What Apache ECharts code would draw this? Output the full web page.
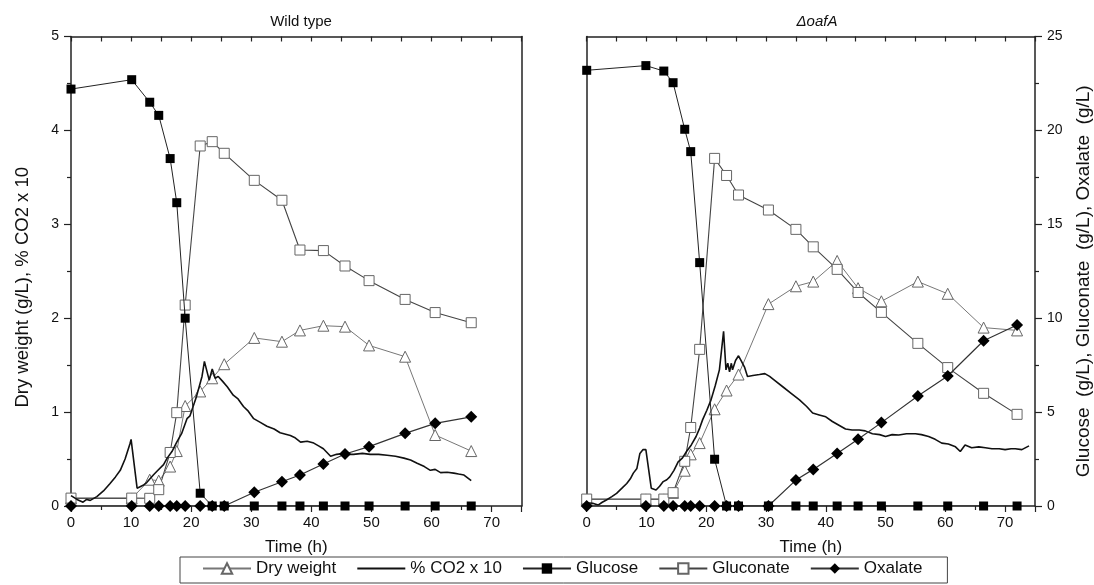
<!DOCTYPE html>
<html>
<head>
<meta charset="utf-8">
<script src="https://cdn.jsdelivr.net/npm/echarts@6/dist/echarts.min.js"></script>
<style>
  html, body { margin: 0; padding: 0; background: #fff; }
  #chart { width: 1094px; height: 585px; }
</style>
</head>
<body>
<div id="chart"></div>
<script>
// ---- Wild type: sampling times (h) and values
const wtTime = [0, 10.1, 13.1, 14.6, 16.5, 17.6, 19.0, 21.5, 23.5, 25.5, 30.5, 35.1, 38.1, 42.0, 45.6, 49.6, 55.6, 60.6, 66.6]
const wtDryWeight = [0.08, 0.08, 0.28, 0.27, 0.42, 0.585, 1.065, 1.22, 1.36, 1.51, 1.79, 1.75, 1.87, 1.92, 1.91, 1.71, 1.59, 0.756, 0.585]
const wtGlucose = [22.2, 22.7, 21.5, 20.8, 18.5, 16.15, 10.0, 0.68, 0, 0, 0, 0, 0, 0, 0, 0, 0, 0, 0]
const wtGluconate = [0.42, 0.42, 0.41, 0.87, 2.85, 4.97, 10.7, 19.17, 19.4, 18.78, 17.34, 16.28, 13.63, 13.6, 12.78, 12.0, 11.0, 10.3, 9.76]
const wtOxalate = [0, 0, 0, 0, 0, 0, 0, 0, 0, 0, 0.73, 1.29, 1.65, 2.24, 2.77, 3.16, 3.87, 4.4, 4.75]
// CO2 trace (wild type)
const wtCo2Time = [0, 1.0, 2.0, 2.6, 3.2, 4.3, 5.4, 6.5, 7.4, 8.2, 9.0, 9.8, 10.0, 11.0, 12.0, 12.6, 13.7, 14.3, 15.4, 16.0, 16.8, 17.6, 18.4, 19.3, 19.8, 20.9, 21.8, 22.2, 22.5, 23.0, 23.5, 24.0, 24.5, 25.2, 26.0, 27.0, 27.8, 28.7, 29.5, 30.4, 31.5, 32.6, 33.8, 34.8, 36.5, 37.2, 38.2, 39.3, 40.4, 41.2, 42.0, 43.2, 44.2, 45.2, 46.2, 47.0, 48.5, 49.8, 51.2, 52.6, 54.0, 55.4, 56.5, 57.6, 58.8, 59.8, 60.6, 61.5, 62.6, 63.7, 64.5, 65.4, 66.6]
const wtCo2 = [0.11, 0.07, 0.04, 0.07, 0.06, 0.10, 0.16, 0.24, 0.31, 0.38, 0.50, 0.66, 0.71, 0.19, 0.22, 0.25, 0.33, 0.37, 0.44, 0.51, 0.58, 0.68, 0.77, 0.93, 0.96, 1.17, 1.38, 1.54, 1.55, 1.34, 1.46, 1.36, 1.38, 1.33, 1.27, 1.18, 1.14, 1.06, 1.01, 0.93, 0.89, 0.85, 0.82, 0.78, 0.75, 0.73, 0.68, 0.69, 0.67, 0.64, 0.61, 0.53, 0.55, 0.56, 0.55, 0.55, 0.56, 0.55, 0.55, 0.54, 0.53, 0.51, 0.49, 0.455, 0.42, 0.38, 0.39, 0.355, 0.36, 0.35, 0.34, 0.33, 0.27]

// ---- deltaOafA: sampling times (h) and values
const koTime = [0, 9.9, 12.9, 14.45, 16.4, 17.4, 18.9, 21.4, 23.4, 25.4, 30.4, 35.0, 37.9, 41.9, 45.4, 49.3, 55.4, 60.4, 66.4, 72.0]
const koDryWeight = [0.07, 0.07, 0.07, 0.14, 0.376, 0.55, 0.67, 1.03, 1.23, 1.40, 2.15, 2.34, 2.39, 2.61, 2.32, 2.18, 2.39, 2.26, 1.90, 1.87]
const koGlucose = [23.2, 23.45, 23.16, 22.54, 20.06, 18.87, 12.96, 2.49, 0, 0, 0, 0, 0, 0, 0, 0, 0, 0, 0, 0]
const koGluconate = [0.37, 0.37, 0.37, 0.71, 2.38, 4.18, 8.34, 18.51, 17.6, 16.56, 15.76, 14.73, 13.8, 12.6, 11.37, 10.31, 8.66, 7.37, 6.0, 4.88]
const koOxalate = [0, 0, 0, 0, 0, 0, 0, 0, 0, 0, 0, 1.38, 1.95, 2.80, 3.55, 4.44, 5.86, 6.92, 8.80, 9.64]
// CO2 trace (deltaOafA)
const koCo2Time = [0, 1.0, 1.9, 2.6, 3.3, 4.2, 5.0, 5.9, 6.7, 7.3, 7.8, 8.4, 8.9, 9.4, 9.9, 10.8, 11.6, 12.2, 12.8, 13.4, 13.9, 14.6, 15.3, 16.0, 16.7, 17.5, 18.3, 18.9, 19.4, 20.1, 20.8, 21.5, 22.2, 22.9, 23.3, 23.6, 23.9, 24.2, 24.4, 24.9, 25.4, 25.9, 26.4, 26.9, 27.8, 28.9, 29.8, 30.6, 31.6, 32.8, 34.2, 35.6, 36.8, 37.8, 38.9, 40.0, 41.1, 42.2, 43.3, 44.4, 45.6, 46.6, 47.8, 49.0, 50.0, 51.1, 52.2, 53.5, 55.0, 56.0, 57.2, 58.3, 59.4, 60.5, 61.7, 62.5, 63.3, 64.4, 65.6, 66.7, 67.8, 69.0, 70.0, 71.0, 71.7, 72.8, 74.0]
const koCo2 = [0.035, 0.03, 0.01, 0.04, 0.064, 0.10, 0.135, 0.19, 0.24, 0.29, 0.35, 0.40, 0.56, 0.60, 0.60, 0.19, 0.17, 0.21, 0.26, 0.28, 0.31, 0.38, 0.47, 0.51, 0.58, 0.65, 0.74, 0.83, 0.92, 1.02, 1.13, 1.28, 1.45, 1.86, 1.45, 1.52, 1.43, 1.52, 1.45, 1.55, 1.60, 1.54, 1.48, 1.38, 1.39, 1.40, 1.41, 1.38, 1.33, 1.27, 1.20, 1.13, 1.06, 0.99, 0.97, 0.95, 0.90, 0.86, 0.82, 0.81, 0.81, 0.80, 0.77, 0.76, 0.74, 0.76, 0.756, 0.77, 0.77, 0.76, 0.74, 0.71, 0.67, 0.66, 0.63, 0.58, 0.65, 0.62, 0.63, 0.62, 0.61, 0.61, 0.60, 0.61, 0.61, 0.60, 0.64]

const legendNames = ['Dry weight', '% CO2 x 10', 'Glucose', 'Gluconate', 'Oxalate']
const panelTitles = ['Wild type', '\u0394oafA']

const FONT = 'Liberation Sans, Arial, sans-serif'
const AXIS_COLOR = '#222'

function pairs(t, v) {
  return t.map((x, i) => [x, v[i]])
}

function xBottom(gridIndex) {
  return {
    type: 'value',
    gridIndex: gridIndex,
    position: 'bottom',
    min: 0,
    max: 75,
    interval: 10,
    name: 'Time (h)',
    nameLocation: 'middle',
    nameGap: 33,
    nameTextStyle: { fontFamily: FONT, fontSize: 17, color: '#111' },
    axisLine: { show: true, onZero: false, lineStyle: { color: AXIS_COLOR, width: 1.5 } },
    axisTick: { show: true, length: 6, lineStyle: { color: AXIS_COLOR, width: 1.2 } },
    minorTick: { show: true, splitNumber: 2, length: 4, lineStyle: { color: AXIS_COLOR, width: 1.2 } },
    axisLabel: { fontFamily: FONT, fontSize: 15, color: '#111', margin: 9, showMaxLabel: false },
    splitLine: { show: false },
  }
}

function xTop(gridIndex) {
  return {
    type: 'value',
    gridIndex: gridIndex,
    position: 'top',
    min: 0,
    max: 75,
    interval: 5,
    axisLine: { show: true, onZero: false, lineStyle: { color: AXIS_COLOR, width: 1.5 } },
    axisTick: { show: true, inside: true, length: 5, lineStyle: { color: AXIS_COLOR, width: 1.2 } },
    axisLabel: { show: false },
    splitLine: { show: false },
  }
}

// plain frame line without ticks
function yFrame(gridIndex, position, max) {
  return {
    type: 'value',
    gridIndex: gridIndex,
    position: position,
    min: 0,
    max: max,
    axisLine: { show: true, onZero: false, lineStyle: { color: AXIS_COLOR, width: 1.5 } },
    axisTick: { show: false },
    axisLabel: { show: false },
    splitLine: { show: false },
  }
}

function yScaled(gridIndex, position, max, interval, name, gap, size, shift) {
  return {
    type: 'value',
    gridIndex: gridIndex,
    position: position,
    min: 0,
    max: max,
    interval: interval,
    name: name,
    nameLocation: 'middle',
    nameRotate: 90,
    nameGap: gap,
    // right padding moves the rotated name downwards
    nameTextStyle: { fontFamily: FONT, fontSize: size, color: '#111', padding: [0, shift, 0, 0] },
    axisLine: { show: true, onZero: false, lineStyle: { color: AXIS_COLOR, width: 1.5 } },
    axisTick: { show: true, length: 7, lineStyle: { color: AXIS_COLOR, width: 1.2 } },
    minorTick: { show: true, splitNumber: 2, length: 4, lineStyle: { color: AXIS_COLOR, width: 1.2 } },
    axisLabel: { fontFamily: FONT, fontSize: 14, color: '#111', margin: 12 },
    splitLine: { show: false },
  }
}

function panelSeries(xIdx, yLeft, yRight, t, dry, glu, gln, oxa, co2t, co2) {
  return [
    {
      name: 'Dry weight', type: 'line', xAxisIndex: xIdx, yAxisIndex: yLeft,
      data: pairs(t, dry), symbol: 'triangle', symbolSize: 11, z: 3,
      lineStyle: { color: '#777', width: 1 },
      itemStyle: { color: '#fff', borderColor: '#666', borderWidth: 1 },
    },
    {
      name: '% CO2 x 10', type: 'line', xAxisIndex: xIdx, yAxisIndex: yLeft,
      data: pairs(co2t, co2), symbol: 'none', z: 4,
      lineStyle: { color: '#111', width: 1.6 },
      itemStyle: { color: '#111' },
    },
    {
      name: 'Glucose', type: 'line', xAxisIndex: xIdx, yAxisIndex: yRight,
      data: pairs(t, glu), symbol: 'rect', symbolSize: 9, z: 5,
      lineStyle: { color: '#222', width: 1 },
      itemStyle: { color: '#000' },
    },
    {
      name: 'Gluconate', type: 'line', xAxisIndex: xIdx, yAxisIndex: yRight,
      data: pairs(t, gln), symbol: 'rect', symbolSize: 10, z: 3,
      lineStyle: { color: '#444', width: 1.1 },
      itemStyle: { color: '#fff', borderColor: '#666', borderWidth: 1 },
    },
    {
      name: 'Oxalate', type: 'line', xAxisIndex: xIdx, yAxisIndex: yRight,
      data: pairs(t, oxa), symbol: 'diamond', symbolSize: 12, z: 5,
      lineStyle: { color: '#333', width: 1.2 },
      itemStyle: { color: '#000' },
    },
  ]
}

const chart = echarts.init(document.getElementById('chart'))

const option = {
  animation: false,
  backgroundColor: '#fff',
  title: [
    { text: panelTitles[0], left: 296, top: 9, textAlign: 'center',
      textStyle: { fontFamily: FONT, fontSize: 15, fontWeight: 'normal', color: '#111' } },
    { text: panelTitles[1], left: 812, top: 9, textAlign: 'center',
      textStyle: { fontFamily: FONT, fontSize: 15, fontWeight: 'normal', fontStyle: 'italic', color: '#111' } },
  ],
  legend: {
    data: legendNames.map(n => (n === '% CO2 x 10' ? { name: n, itemStyle: { opacity: 0 } } : n)),
    left: 180,
    top: 557,
    padding: [3, 25, 6, 22],
    itemGap: 20,
    itemWidth: 48,
    itemHeight: 13,
    borderColor: '#444',
    borderWidth: 1,
    textStyle: { fontFamily: FONT, fontSize: 17, color: '#111' },
  },
  grid: [
    { left: 71, top: 36.5, width: 450.7, height: 469.5 },
    { left: 586.7, top: 36.5, width: 450, height: 469.5 },
  ],
  xAxis: [xBottom(0), xTop(0), xBottom(1), xTop(1)],
  yAxis: [
    yScaled(0, 'left', 5, 1, 'Dry weight (g/L), % CO2 x 10', 39, 18.5, 32),
    yFrame(0, 'right', 25),
    yFrame(1, 'left', 5),
    yScaled(1, 'right', 25, 5, 'Glucose  (g/L), Gluconate  (g/L), Oxalate  (g/L)', 39, 19, 20),
  ],
  series: [].concat(
    panelSeries(0, 0, 1, wtTime, wtDryWeight, wtGlucose, wtGluconate, wtOxalate, wtCo2Time, wtCo2),
    panelSeries(2, 2, 3, koTime, koDryWeight, koGlucose, koGluconate, koOxalate, koCo2Time, koCo2)
  ),
}

chart.setOption(option)
</script>
</body>
</html>
